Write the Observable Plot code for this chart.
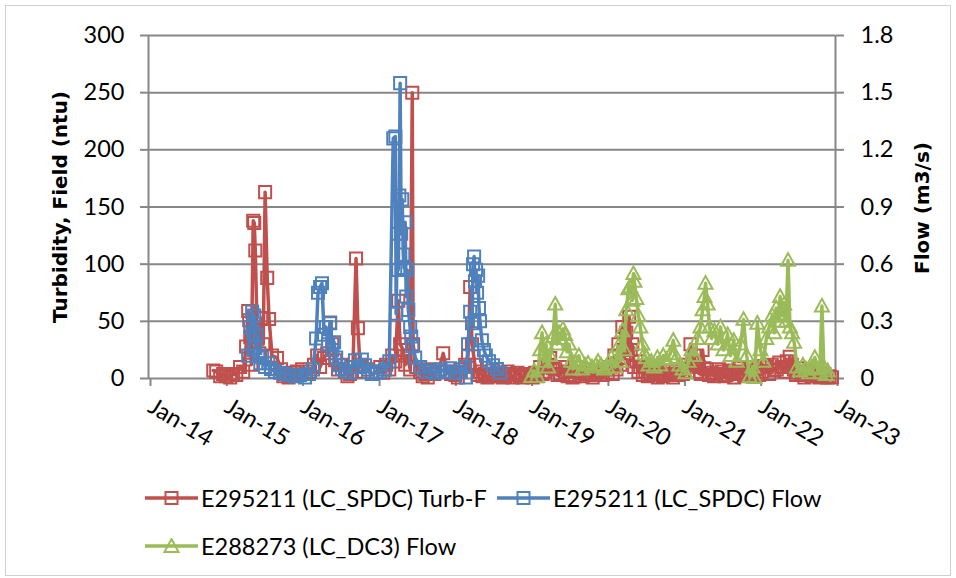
<!DOCTYPE html>
<html><head><meta charset="utf-8">
<script src="https://cdn.jsdelivr.net/npm/d3@7"></script>
<script src="https://cdn.jsdelivr.net/npm/@observablehq/plot@0.6"></script>
<style>
body{margin:0;background:#fff;}
#chart{position:relative;width:956px;height:578px;overflow:hidden;font-family:Lato,sans-serif;color:#000;}
#frame{position:absolute;left:5px;top:5px;width:946px;height:571px;border:1px solid #d0d0d0;box-sizing:border-box;pointer-events:none;}
#plot{position:absolute;left:0;top:0;}
.atitle{position:absolute;font-family:"DejaVu Sans",sans-serif;font-weight:bold;font-size:20px;white-space:nowrap;transform-origin:center center;line-height:1;}
.leg{position:absolute;display:flex;align-items:center;font-size:23.5px;white-space:nowrap;}
.leg svg{margin-right:3px;}
</style></head>
<body>
<div id="chart">
  <div id="plot"></div>
  <div class="atitle" id="tl">Turbidity, Field (ntu)</div>
  <div class="atitle" id="tr">Flow (m3/s)</div>
  <div id="legend"></div>
  <div id="frame"></div>
</div>
<script>
// ---- data ----
const seriesNames = ["E295211 (LC_SPDC) Turb-F", "E295211 (LC_SPDC) Flow", "E288273 (LC_DC3) Flow"];
const leftTicks = [0, 50, 100, 150, 200, 250, 300];
const rightTickLabels = ["0", "0.3", "0.6", "0.9", "1.2", "1.5", "1.8"];
const yearTicks = ["2014-01-01","2015-01-01","2016-01-01","2017-01-01","2018-01-01","2019-01-01","2020-01-01","2021-01-01","2022-01-01","2023-01-01"];
const yearLabels = ["Jan-14","Jan-15","Jan-16","Jan-17","Jan-18","Jan-19","Jan-20","Jan-21","Jan-22","Jan-23"];

// Turbidity, field (ntu) - left axis
const turbidity = [
["2014-11-07",7],["2014-11-21",6],["2014-12-10",2],["2014-12-24",4],["2015-01-08",2],["2015-01-27",1],["2015-02-10",4],["2015-02-25",3],
["2015-03-15",10],["2015-03-30",6],["2015-04-13",28],["2015-04-23",59],["2015-04-28",51],["2015-05-03",36],["2015-05-08",12],
["2015-05-17",138],["2015-05-22",136],["2015-05-27",112],["2015-06-05",40],["2015-06-15",22],["2015-06-24",53],["2015-07-04",30],
["2015-07-13",163],["2015-07-23",88],["2015-08-01",52],["2015-08-15",20],["2015-09-08",18],["2015-09-27",8],["2015-10-08",2],["2015-10-20",4],
["2015-11-02",1],["2015-11-19",3],["2015-12-01",5],["2015-12-12",6],["2016-01-06",8],["2016-01-25",4],["2016-02-13",6],["2016-03-03",12],["2016-03-18",20],
["2016-04-01",10],["2016-04-20",18],["2016-05-05",22],["2016-05-19",49],["2016-05-29",30],["2016-06-12",16],["2016-06-26",8],
["2016-07-10",12],["2016-07-29",6],["2016-08-10",2],["2016-08-22",4],["2016-09-05",10],["2016-09-20",105],["2016-09-29",44],["2016-10-09",12],
["2016-10-28",6],["2016-11-16",8],["2016-12-05",4],["2016-12-25",6],["2017-01-14",10],["2017-01-28",5],["2017-02-11",12],
["2017-02-26",8],["2017-03-12",20],["2017-03-27",15],["2017-04-10",68],["2017-04-19",30],["2017-05-04",25],["2017-05-13",12],
["2017-05-23",20],["2017-06-06",8],["2017-06-16",250],["2017-06-20",30],["2017-07-05",10],["2017-07-24",6],["2017-08-05",2],["2017-08-17",4],
["2017-08-29",1],["2017-09-10",8],["2017-09-29",4],["2017-10-18",6],["2017-11-11",22],["2017-11-30",6],["2017-12-19",4],["2018-01-08",3],
["2018-01-20",1],["2018-02-01",8],["2018-02-24",12],["2018-03-10",20],["2018-03-20",80],["2018-03-29",30],["2018-04-12",12],["2018-04-24",3],
["2018-05-06",6],["2018-05-18",2],["2018-05-30",4],["2018-06-11",1],["2018-06-23",3],["2018-07-05",7],["2018-07-17",2],["2018-07-29",5],
["2018-08-10",3],["2018-08-22",1],["2018-09-03",2],["2018-09-15",6],["2018-09-27",4],["2018-10-09",1],["2018-10-20",3],["2018-11-01",5],
["2018-11-13",2],["2018-11-25",1],["2018-12-07",4],["2018-12-19",2],
["2019-01-01",3],["2019-01-13",1],["2019-01-25",5],["2019-02-06",2],["2019-02-18",10],["2019-03-02",4],["2019-03-14",6],["2019-03-26",12],
["2019-04-07",18],["2019-04-19",9],["2019-05-01",8],["2019-05-12",3],["2019-05-24",4],["2019-06-05",10],["2019-06-17",6],["2019-06-29",2],
["2019-07-11",3],["2019-07-23",1],["2019-08-04",2],["2019-08-16",6],["2019-08-28",5],["2019-09-09",2],["2019-09-21",4],["2019-10-03",8],
["2019-10-15",3],["2019-10-27",1],["2019-11-08",4],["2019-11-20",7],["2019-12-02",6],["2019-12-14",3],["2019-12-26",8],
["2020-01-07",5],["2020-01-19",10],["2020-01-31",4],["2020-02-08",20],["2020-02-18",8],["2020-02-27",30],["2020-03-08",12],["2020-03-17",45],
["2020-03-26",18],["2020-04-05",40],["2020-04-12",22],["2020-04-19",54],["2020-04-26",25],["2020-05-04",30],["2020-05-13",10],["2020-05-23",15],
["2020-06-02",6],["2020-06-11",10],["2020-06-23",3],["2020-07-05",6],["2020-07-17",2],["2020-07-29",4],["2020-08-10",8],["2020-08-22",3],
["2020-09-03",1],["2020-09-15",5],["2020-09-27",2],["2020-10-09",3],["2020-10-21",7],["2020-11-02",4],["2020-11-14",1],["2020-11-26",6],
["2020-12-08",3],["2020-12-20",8],
["2021-01-01",4],["2021-01-13",12],["2021-01-25",6],["2021-02-06",30],["2021-02-15",14],["2021-02-25",20],["2021-03-07",6],["2021-03-17",10],
["2021-03-27",4],["2021-04-05",25],["2021-04-14",9],["2021-04-24",8],["2021-05-06",3],["2021-05-18",5],["2021-05-30",2],["2021-06-11",4],
["2021-06-23",8],["2021-07-05",6],["2021-07-17",2],["2021-07-29",3],["2021-08-10",7],["2021-08-22",5],["2021-09-03",1],["2021-09-15",4],
["2021-09-27",9],["2021-10-09",6],["2021-10-21",2],["2021-11-02",3],["2021-11-14",7],["2021-11-26",5],["2021-12-08",2],["2021-12-20",8],
["2022-01-01",3],["2022-01-13",6],["2022-01-25",11],["2022-02-06",10],["2022-02-18",4],["2022-03-02",12],["2022-03-14",7],["2022-03-26",8],
["2022-04-07",14],["2022-04-19",10],["2022-05-01",6],["2022-05-13",15],["2022-05-20",10],["2022-05-27",19],["2022-06-06",12],["2022-06-16",8],
["2022-06-26",3],["2022-07-05",5],["2022-07-14",9],["2022-07-24",3],["2022-08-05",1],["2022-08-17",4],["2022-08-29",7],["2022-09-10",2],
["2022-09-22",5],["2022-10-04",3],["2022-10-16",1],["2022-10-28",2],["2022-11-09",4],["2022-11-21",1],["2022-12-03",2],["2022-12-15",1]
];

// Flow (m3/s), E295211 - right axis
const flowSPDC = [
["2015-04-23",0.12],["2015-05-03",0.27],["2015-05-12",0.35],["2015-05-17",0.24],["2015-05-22",0.33],["2015-05-27",0.16],
["2015-06-01",0.23],["2015-06-10",0.12],["2015-06-20",0.08],["2015-06-29",0.11],["2015-07-13",0.06],["2015-07-28",0.08],
["2015-08-10",0.05],["2015-08-29",0.036],["2015-09-22",0.03],["2015-10-16",0.024],["2015-11-08",0.018],["2015-12-02",0.012],
["2015-12-26",0.018],["2016-01-20",0.006],["2016-02-08",0.024],["2016-02-27",0.048],["2016-03-13",0.21],["2016-03-22",0.45],
["2016-04-01",0.48],["2016-04-10",0.50],["2016-04-20",0.23],["2016-04-29",0.27],["2016-05-09",0.18],["2016-05-19",0.29],
["2016-05-29",0.15],["2016-06-07",0.19],["2016-06-17",0.11],["2016-07-01",0.07],["2016-07-15",0.05],["2016-08-03",0.036],
["2016-08-22",0.03],["2016-09-15",0.096],["2016-09-29",0.06],["2016-10-18",0.10],["2016-11-02",0.07],["2016-11-16",0.036],
["2016-12-05",0.024],["2016-12-25",0.03],["2017-01-14",0.036],["2017-02-06",0.048],["2017-02-26",0.09],["2017-03-17",1.26],
["2017-03-27",1.27],["2017-03-31",0.34],["2017-04-05",0.76],["2017-04-10",0.57],["2017-04-15",0.96],["2017-04-19",1.55],
["2017-04-24",0.76],["2017-04-29",0.94],["2017-05-04",0.65],["2017-05-08",0.58],["2017-05-13",0.82],["2017-05-18",0.43],
["2017-05-23",0.57],["2017-05-28",0.36],["2017-06-06",0.27],["2017-06-11",0.22],["2017-06-16",0.17],["2017-06-30",0.11],
["2017-07-24",0.06],["2017-08-17",0.036],["2017-09-10",0.042],["2017-10-04",0.03],["2017-10-28",0.048],["2017-11-20",0.036],
["2017-12-14",0.054],["2018-01-08",0.03],["2018-02-01",0.036],["2018-02-24",0.06],["2018-02-28",0.005],["2018-03-10",0.18],
["2018-03-20",0.35],["2018-03-29",0.29],["2018-04-03",0.60],["2018-04-08",0.64],["2018-04-12",0.51],["2018-04-17",0.57],
["2018-04-22",0.45],["2018-04-27",0.54],["2018-05-01",0.37],["2018-05-06",0.30],["2018-05-15",0.20],["2018-05-25",0.15],
["2018-06-03",0.12],["2018-06-18",0.09],["2018-07-07",0.07],["2018-07-26",0.05],["2018-08-10",0.03]
];

// Flow (m3/s), E288273 - right axis
const flowDC3 = [
["2019-01-06",0.01],["2019-01-20",0.04],["2019-02-04",0.01],["2019-02-18",0.15],["2019-02-27",0.24],["2019-03-09",0.09],
["2019-03-18",0.18],["2019-03-28",0.06],["2019-04-07",0.12],["2019-04-21",0.22],["2019-05-01",0.39],["2019-05-10",0.18],
["2019-05-19",0.24],["2019-05-29",0.21],["2019-06-07",0.26],["2019-06-17",0.23],["2019-06-26",0.14],["2019-07-06",0.18],
["2019-07-16",0.09],["2019-07-25",0.05],["2019-08-08",0.08],["2019-08-22",0.12],["2019-09-06",0.05],["2019-09-21",0.07],
["2019-10-05",0.08],["2019-10-24",0.06],["2019-11-12",0.07],["2019-11-22",0.09],["2019-12-06",0.07],["2019-12-21",0.05],
["2020-01-05",0.06],["2020-01-24",0.11],["2020-02-12",0.06],["2020-02-27",0.17],["2020-03-07",0.09],["2020-03-17",0.25],
["2020-03-27",0.15],["2020-04-05",0.36],["2020-04-15",0.47],["2020-04-24",0.48],["2020-05-04",0.41],["2020-05-09",0.55],
["2020-05-14",0.51],["2020-05-23",0.42],["2020-06-02",0.33],["2020-06-11",0.27],["2020-06-21",0.18],["2020-07-01",0.13],
["2020-07-10",0.11],["2020-07-20",0.07],["2020-08-03",0.09],["2020-08-17",0.06],["2020-09-01",0.11],["2020-09-15",0.07],
["2020-09-29",0.12],["2020-10-14",0.10],["2020-11-02",0.13],["2020-11-16",0.20],["2020-12-01",0.11],["2020-12-15",0.07],
["2020-12-30",0.05],["2021-01-13",0.03],["2021-01-28",0.09],["2021-02-11",0.15],["2021-02-25",0.12],["2021-03-12",0.21],
["2021-03-26",0.27],["2021-04-05",0.36],["2021-04-14",0.43],["2021-04-19",0.50],["2021-04-29",0.39],["2021-05-08",0.27],
["2021-05-18",0.21],["2021-06-01",0.25],["2021-06-16",0.18],["2021-06-30",0.27],["2021-07-14",0.15],["2021-08-03",0.23],
["2021-08-17",0.12],["2021-09-01",0.20],["2021-09-15",0.09],["2021-10-04",0.18],["2021-10-18",0.31],["2021-11-02",0.12],
["2021-11-16",0.01],["2021-11-30",0.06],["2021-12-09",0.005],["2021-12-23",0.29],["2022-01-07",0.15],["2022-01-21",0.09],
["2022-02-04",0.21],["2022-02-18",0.27],["2022-03-04",0.33],["2022-03-14",0.24],["2022-03-23",0.37],["2022-04-02",0.30],
["2022-04-11",0.43],["2022-04-21",0.33],["2022-04-30",0.39],["2022-05-09",0.30],["2022-05-19",0.62],["2022-05-28",0.27],
["2022-06-07",0.24],["2022-06-17",0.19],["2022-07-01",0.06],["2022-07-15",0.04],["2022-07-29",0.07],["2022-08-12",0.05],
["2022-08-27",0.03],["2022-09-10",0.06],["2022-09-24",0.11],["2022-10-09",0.05],["2022-10-18",0.03],["2022-10-28",0.38],
["2022-11-06",0.06],["2022-11-16",0.02],["2022-11-25",0.04]
];

// ---- drawing ----
const RED = "#C0504D", BLUE = "#4F81BD", GREEN = "#9BBB59", GRID = "#878787";
const parse = d3.utcParse("%Y-%m-%d");
const k = 300 / 1.8; // right axis (flow) to left axis (turbidity) units
const red = turbidity.map(([d, v]) => ({date: parse(d), y: v}));
const blue = flowSPDC.map(([d, v]) => ({date: parse(d), y: v * k}));
const green = flowDC3.map(([d, v]) => ({date: parse(d), y: v * k}));
const xt = yearTicks.map(parse);
const xDomain = [xt[0], xt[xt.length - 1]];

const tri = {draw(ctx, size) {
  const s = Math.sqrt(size);
  ctx.moveTo(0, -s * 0.6); ctx.lineTo(s * 0.58, s * 0.45); ctx.lineTo(-s * 0.58, s * 0.45); ctx.closePath();
}};

const plot = Plot.plot({
  width: 956, height: 470,
  marginLeft: 148, marginRight: 121, marginTop: 35, marginBottom: 92,
  style: {fontFamily: "Lato, sans-serif", fontSize: "23.5px", color: "#000", background: "transparent", overflow: "visible"},
  x: {type: "utc", domain: xDomain},
  y: {domain: [0, 300]},
  marks: [
    Plot.ruleY(leftTicks, {stroke: GRID, strokeWidth: 2}),
    Plot.ruleX(xDomain, {stroke: GRID, strokeWidth: 2}),
    Plot.axisY({ticks: leftTicks, tickSize: 8, tickPadding: 16, stroke: GRID, strokeWidth: 2, fill: "#000", label: null}),
    Plot.axisY({anchor: "right", ticks: leftTicks, tickFormat: d => rightTickLabels[leftTicks.indexOf(d)],
      tickSize: 8, tickPadding: 17, stroke: GRID, strokeWidth: 2, fill: "#000", label: null}),
    Plot.axisX({ticks: xt, tickFormat: d => yearLabels[xt.findIndex(t => +t === +d)], tickRotate: 31,
      tickSize: 8, tickPadding: 18, dx: 2, stroke: GRID, strokeWidth: 2, fill: "#000", label: null}),
    Plot.line(red, {x: "date", y: "y", stroke: RED, strokeWidth: 3.5}),
    Plot.dot(red, {x: "date", y: "y", symbol: "square", r: 6.8, stroke: RED, strokeWidth: 2, fill: "none"}),
    Plot.line(blue, {x: "date", y: "y", stroke: BLUE, strokeWidth: 3.5}),
    Plot.dot(blue, {x: "date", y: "y", symbol: "square", r: 6.8, stroke: BLUE, strokeWidth: 2, fill: "none"}),
    Plot.line(green, {x: "date", y: "y", stroke: GREEN, strokeWidth: 3.5}),
    Plot.dot(green, {x: "date", y: "y", symbol: tri, r: 6.8, stroke: GREEN, strokeWidth: 2, fill: "none"})
  ]
});
document.getElementById("plot").appendChild(plot);

// axis titles
const tl = document.getElementById("tl");
tl.style.left = (60 - tl.offsetWidth / 2) + "px";
tl.style.top = (207 - tl.offsetHeight / 2) + "px";
tl.style.transform = "rotate(-90deg)";
const tr = document.getElementById("tr");
tr.style.left = (922 - tr.offsetWidth / 2) + "px";
tr.style.top = (208 - tr.offsetHeight / 2) + "px";
tr.style.transform = "rotate(-90deg)";

// legend
const legendItems = [
  {name: seriesNames[0], color: RED, shape: "square", left: 145, top: 498},
  {name: seriesNames[1], color: BLUE, shape: "square", left: 497, top: 498},
  {name: seriesNames[2], color: GREEN, shape: "triangle", left: 145, top: 546}
];
const legend = document.getElementById("legend");
for (const it of legendItems) {
  const div = document.createElement("div");
  div.className = "leg";
  div.style.left = it.left + "px";
  div.style.top = (it.top - 15) + "px";
  div.style.height = "30px";
  const marker = it.shape === "square"
    ? `<rect x="20.5" y="2" width="12" height="12" fill="none" stroke="${it.color}" stroke-width="2"/>`
    : `<path d="M26.5,1 L33.5,14 L19.5,14 Z" fill="none" stroke="${it.color}" stroke-width="2"/>`;
  div.innerHTML = `<svg width="53" height="16"><line x1="0" x2="53" y1="8" y2="8" stroke="${it.color}" stroke-width="3.5"/>${marker}</svg><span>${it.name}</span>`;
  legend.appendChild(div);
}
</script>
</body></html>
